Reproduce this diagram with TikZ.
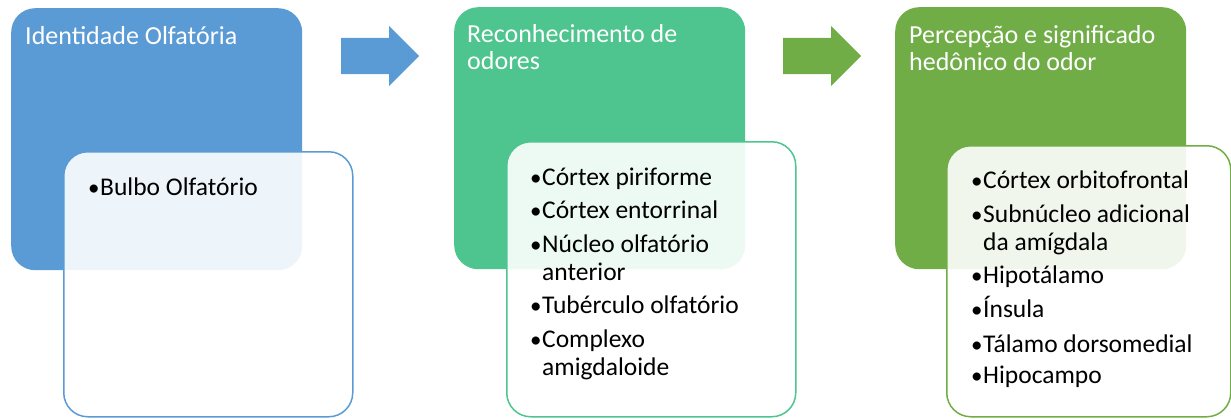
\documentclass[tikz,border=0pt]{standalone}
\usepackage{fontspec}
\setmainfont{Carlito}
\usetikzlibrary{shapes.arrows}

\definecolor{azul}{HTML}{5B9BD5}
\definecolor{verdeagua}{HTML}{4EC48E}
\definecolor{verde}{HTML}{70AD47}

\tikzset{
  etapa/.style={rounded corners=24pt, fill=#1, anchor=north west,
    minimum width=291pt, minimum height=262pt, inner sep=0pt},
  lista/.style={rounded corners=24pt, draw=#1, line width=1.5pt,
    fill=white, fill opacity=0.9, anchor=north west,
    minimum width=289pt, minimum height=265pt, inner sep=0pt},
  titulo/.style={text=white, anchor=base west, align=left, inner sep=0pt,
    font=\fontsize{26}{27}\selectfont},
  marca/.style={anchor=base west, inner sep=0pt,
    font=\fontsize{23}{28}\selectfont},
  texto/.style={anchor=base west, align=left, inner sep=0pt,
    font=\fontsize{25.5}{28}\selectfont},
  seta/.style={single arrow, fill=#1, anchor=tail, inner xsep=0pt,
    inner ysep=18pt, minimum height=78pt, single arrow head extend=12pt}
}

\begin{document}
\begin{tikzpicture}[x=1pt, y=-1pt]
  \useasboundingbox (0,0) rectangle (1231,418);

  % etapas
  \node[etapa=azul] (e1) at (11,8) {};
  \node[etapa=verdeagua] (e2) at (454,7) {};
  \node[etapa=verde] (e3) at (895,7) {};

  % titles: base = last line
  \node[titulo] (t1) at (25,44) {Identidade Olfatória};
  \node[titulo] (t2) at (467,69) {Reconhecimento de\\odores};
  \node[titulo] (t3) at (909,70) {Percepção e significado\\hedônico do odor};

  % setas
  \node[seta=azul] (s1) at (341,56) {};
  \node[seta=verde] (s2) at (783,56) {};

  % listas
  \node[lista=azul] (l1) at (63,151) {};
  \node[lista=verdeagua, minimum height=275pt] (l2) at (506,141) {};
  \node[lista=verde, minimum width=284pt, minimum height=271pt] (l3)
    at (946,145) {};

  \begin{scope}
    \node[marca] (b11) at (88,195) {\textbullet};
    \node[texto] (i11) at (100,195) {Bulbo Olfatório};
  \end{scope}

  \begin{scope}
    \node[marca] (b21) at (530,185) {\textbullet};
    \node[texto] (i21) at (542,185) {Córtex piriforme};
    \node[marca] (b22) at (530,218) {\textbullet};
    \node[texto] (i22) at (542,218) {Córtex entorrinal};
    \node[marca] (b23) at (530,252) {\textbullet};
    \node[texto] (i23) at (542,280) {Núcleo olfatório\\anterior};
    \node[marca] (b24) at (530,313) {\textbullet};
    \node[texto] (i24) at (542,313) {Tubérculo olfatório};
    \node[marca] (b25) at (530,347) {\textbullet};
    \node[texto] (i25) at (542,375) {Complexo\\amigdaloide};
  \end{scope}

  \begin{scope}
    \node[marca] (b31) at (971,188) {\textbullet};
    \node[texto] (i31) at (983,188) {Córtex orbitofrontal};
    \node[marca] (b32) at (971,222) {\textbullet};
    \node[texto] (i32) at (983,250) {Subnúcleo adicional\\da amígdala};
    \node[marca] (b33) at (971,283) {\textbullet};
    \node[texto] (i33) at (983,283) {Hipotálamo};
    \node[marca] (b34) at (971,317) {\textbullet};
    \node[texto] (i34) at (983,317) {Ínsula};
    \node[marca] (b35) at (971,352) {\textbullet};
    \node[texto] (i35) at (983,352) {Tálamo dorsomedial};
    \node[marca] (b36) at (971,383) {\textbullet};
    \node[texto] (i36) at (983,383) {Hipocampo};
  \end{scope}
\end{tikzpicture}
\end{document}
